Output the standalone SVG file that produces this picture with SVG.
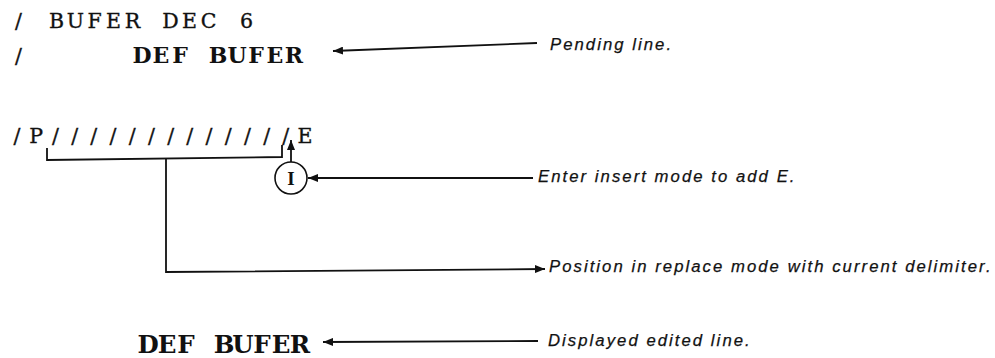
<svg xmlns="http://www.w3.org/2000/svg" width="995" height="358" viewBox="0 0 995 358">
<style>
.tw{font-family:"DejaVu Serif","Liberation Serif",serif;fill:#111;text-anchor:middle}
.l1{font-size:20.5px;stroke:#111;stroke-width:0.35px}
.l2{font-size:22px;font-weight:bold}
.l4{font-size:24.5px;font-weight:bold}
.note{font-family:"Liberation Sans",Arial,sans-serif;font-style:italic;font-size:16.7px;letter-spacing:2.05px;fill:#111;stroke:#111;stroke-width:0.25px}
.conn{fill:none;stroke:#111;stroke-width:1.8}
</style>
<defs>
<marker id="ah" viewBox="0 0 10 8" refX="10" refY="4" markerWidth="10" markerHeight="8" markerUnits="userSpaceOnUse" orient="auto">
<path d="M0,0 L10,4 L0,8 z" fill="#111"/>
</marker>
</defs>
<rect width="995" height="358" fill="#fff"/>
<g id="line1"><text class="tw l1" x="18.5 37.5 56.5 75.5 94.5 113.5 132.5 151.5 170.5 189.5 208.5 227.5 246.5" y="28">/ BUFER DEC 6</text></g>
<g id="line2"><text class="tw l1" x="18.5" y="63">/</text><text class="tw l2" x="142 161 180 199 218 237 256 275 294" y="63">DEF BUFER</text></g>
<g id="line3"><text class="tw l1" x="17 36.2 55.4 74.6 93.8 113 132.2 151.4 170.6 189.8 209 228.2 247.4 266.6 285.8 305" y="143">/P/////////////E</text></g>
<g id="insert">
<circle cx="291" cy="178" r="16" fill="#fff" stroke="#111" stroke-width="1.6"/>
<text x="291" y="185" text-anchor="middle" font-family="Liberation Serif,serif" font-size="19" font-weight="bold" fill="#111">I</text>
</g>
<g id="line4"><text class="tw l4" x="148 167 186 205 224 243 262 281 300" y="353">DEF BUFER</text></g>
<g id="labels">
<text class="note" x="550" y="50">Pending line.</text>
<text class="note" x="538" y="182">Enter insert mode to add E.</text>
<text class="note" x="549" y="272">Position in replace mode with current delimiter.</text>
<text class="note" x="548" y="346">Displayed edited line.</text>
</g>
<g id="connectors">
<line class="conn" x1="537" y1="43" x2="333" y2="51" marker-end="url(#ah)"/>
<line class="conn" x1="533" y1="178" x2="308" y2="178" marker-end="url(#ah)"/>
<line class="conn" x1="291" y1="162" x2="291" y2="140" marker-end="url(#ah)"/>
<path class="conn" d="M47,148 V160 L282,157 V145"/>
<path class="conn" d="M166,159 V272 L545,269" marker-end="url(#ah)"/>
<line class="conn" x1="538" y1="341" x2="323" y2="342" marker-end="url(#ah)"/>
</g>
</svg>
